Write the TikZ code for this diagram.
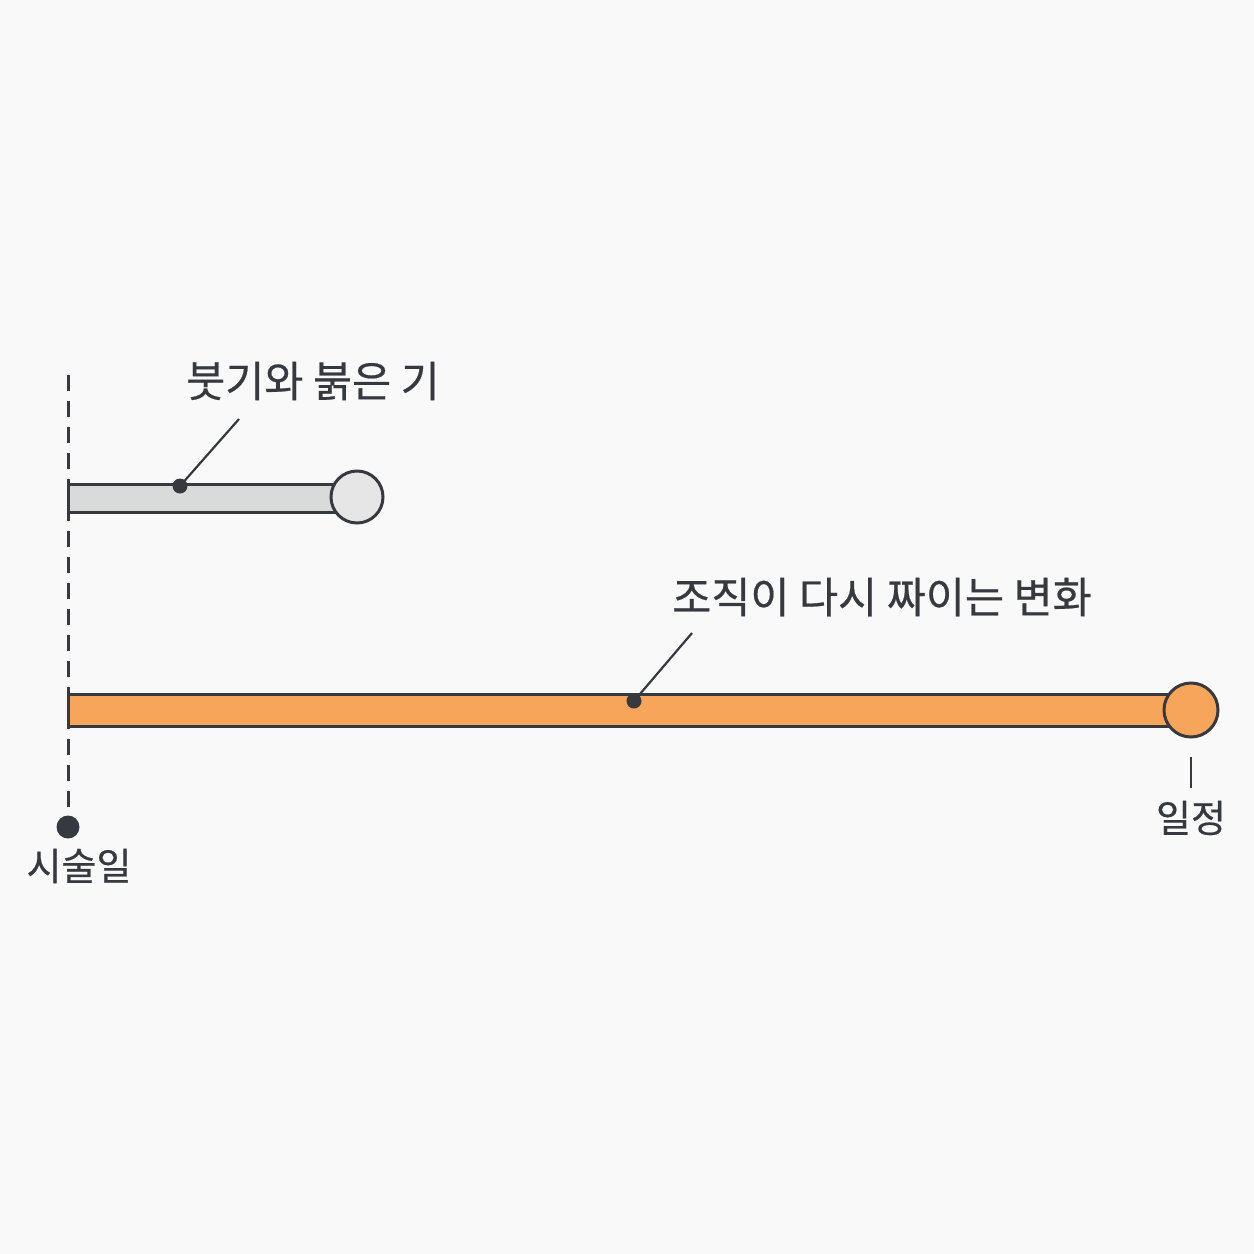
\documentclass[tikz,border=0pt]{standalone}
\usepackage{fontspec}
\newfontfamily\kr[FakeBold=0.5]{Noto Sans CJK KR}
\definecolor{bg}{HTML}{F9F9F9}
\definecolor{ink}{HTML}{363A40}
\definecolor{grayfill}{HTML}{D9DADA}
\definecolor{graycirc}{HTML}{E6E6E6}
\definecolor{orangefill}{HTML}{F7A55A}
\tikzset{
  lbl/.style={font=\kr\fontsize{42.5}{48}\selectfont, text=ink, inner sep=0pt},
  endlbl/.style={font=\kr\fontsize{38}{44}\selectfont, text=ink, inner sep=0pt},
  barbox/.style={draw=ink, line width=3pt},
  endcirc/.style={circle, draw=ink, line width=3pt, inner sep=0pt},
  leaddot/.style={circle, fill=ink, inner sep=0pt, minimum size=15pt},
  leader/.style={draw=ink, line width=2.2pt}
}
\begin{document}
\begin{tikzpicture}[x=1pt,y=-1pt]
\useasboundingbox[fill=bg] (0,0) rectangle (1254,1254);
% baseline dashed
\coordinate (top) at (68,375);
\node[circle, fill=ink, inner sep=0pt, minimum size=23pt] (start) at (68,827) {};
\draw[ink, line width=3pt, dash pattern=on 16pt off 10pt] (top) -- (start.north);
\node[endlbl] (startlbl) at (79,866) {시술일};
% gray bar
\draw[barbox, fill=grayfill] (68,484) rectangle (345,512);
\node[endcirc, fill=graycirc, minimum size=52pt] (gcirc) at (357,497) {};
\node[leaddot] (gdot) at (180,486) {};
\node[lbl] (glbl) at (313,381) {붓기와 붉은 기};
\coordinate (gend) at (239,419);
\draw[leader] (gdot.center) -- (gend);
% orange bar
\draw[barbox, fill=orangefill] (68,694) rectangle (1175,726);
\node[endcirc, fill=orangefill, minimum size=54pt] (ocirc) at (1191,710) {};
\node[leaddot] (odot) at (634,701) {};
\node[lbl] (olbl) at (882,597) {조직이 다시 짜이는 변화};
\coordinate (oend) at (692,633);
\draw[leader] (odot.center) -- (oend);
% tick and label
\coordinate (tickt) at (1191,757);
\coordinate (tickb) at (1191,788);
\draw[leader] (tickt) -- (tickb);
\node[endlbl] (endlbl) at (1191,818) {일정};
\end{tikzpicture}
\end{document}
